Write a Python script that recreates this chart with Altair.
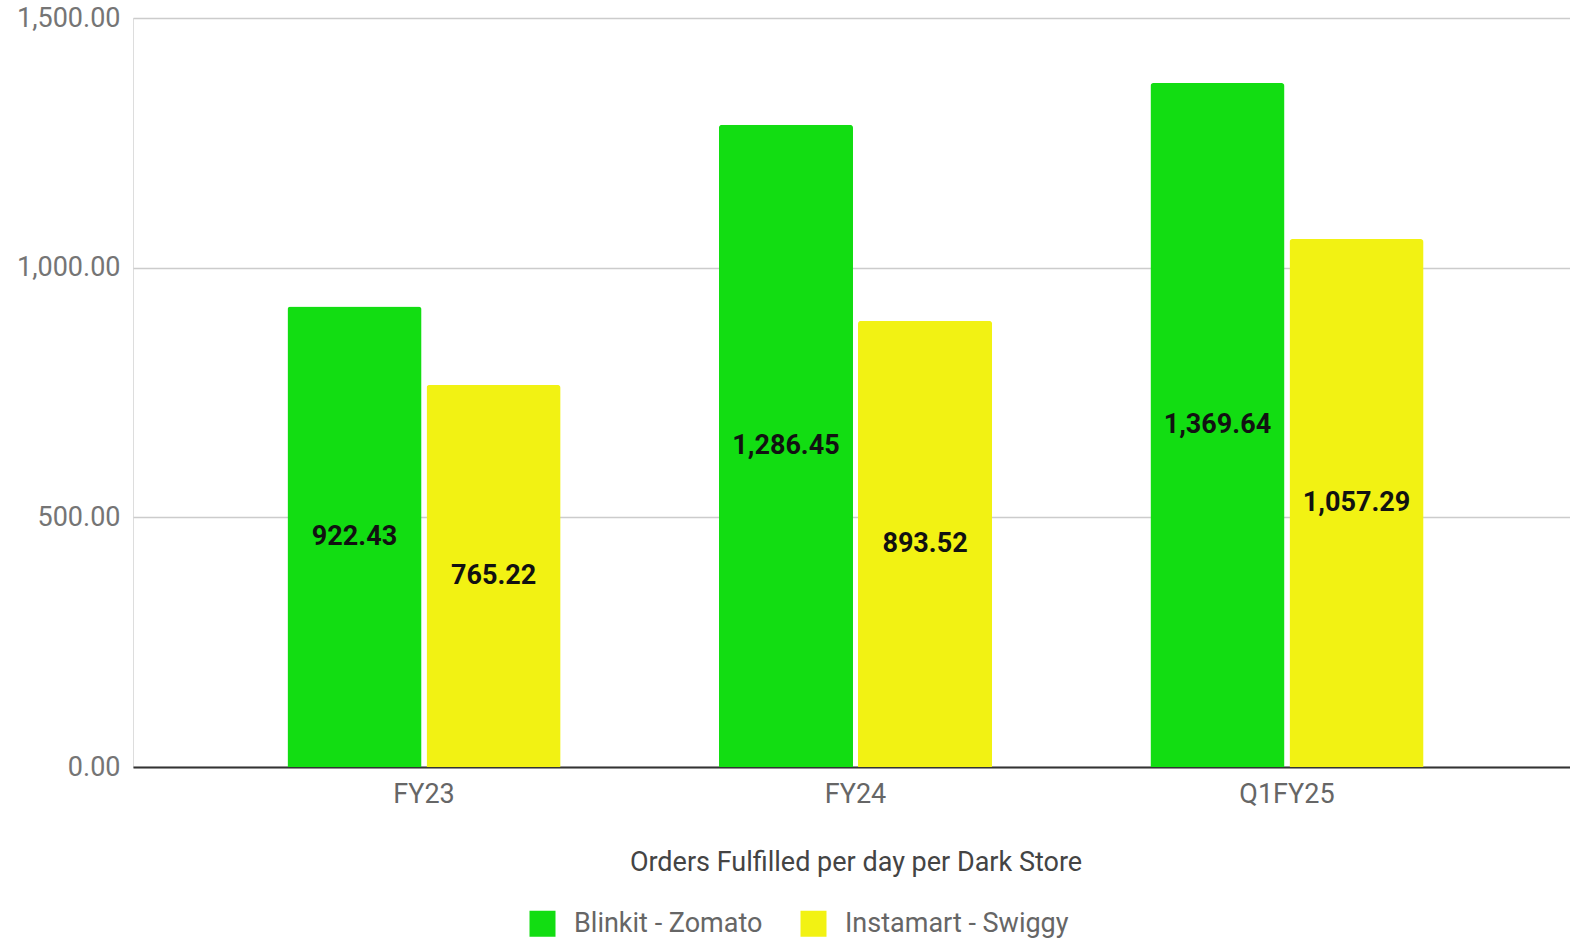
import altair as alt
import pandas as pd

periods = ["FY23", "FY24", "Q1FY25"]
series = ["Blinkit - Zomato", "Instamart - Swiggy"]
blinkit = [922.43, 1286.45, 1369.64]
instamart = [765.22, 893.52, 1057.29]
colors = ["#12DD12", "#F2F213"]

rows = []
for p, b, i in zip(periods, blinkit, instamart):
    rows.append({"period": p, "series": series[0], "value": b})
    rows.append({"period": p, "series": series[1], "value": i})
df = pd.DataFrame(rows)

FONT = "Roboto"
FS = 27

x = alt.X("period:N", sort=periods,
          scale=alt.Scale(paddingInner=0.367, paddingOuter=0.358, range=[0, 1445]),
          axis=alt.Axis(title="Orders Fulfilled per day per Dark Store", labelAngle=0,
                        labelFontSize=FS, labelColor="#666666", labelPadding=14,
                        titleFontSize=FS, titleColor="#444444", titleFontWeight="normal",
                        titlePadding=42, ticks=False, domainColor="#333333",
                        domainWidth=2, labelFont=FONT, titleFont=FONT))
xo = alt.XOffset("series:N", sort=series, scale=alt.Scale(paddingInner=0.036))

bars = alt.Chart(df).mark_bar(cornerRadiusTopLeft=3, cornerRadiusTopRight=3).encode(
    x=x,
    xOffset=xo,
    y=alt.Y("value:Q", scale=alt.Scale(domain=[0, 1500], nice=False),
            axis=alt.Axis(title=None, values=[0, 500, 1000, 1500], format=",.2f",
                          labelFontSize=FS, labelColor="#757575", labelPadding=13,
                          ticks=False, domain=False, gridColor="#CCCCCC",
                          gridWidth=1.5, labelFont=FONT)),
    color=alt.Color("series:N", sort=series,
                    scale=alt.Scale(domain=series, range=colors),
                    legend=alt.Legend(title=None, orient="none", legendX=396, legendY=892,
                                      direction="horizontal", symbolType="square",
                                      symbolSize=676, symbolStrokeWidth=0, symbolOpacity=1,
                                      labelFontSize=FS, labelColor="#666666", labelLimit=0,
                                      labelFont=FONT, columnPadding=37, labelOffset=18)),
)

labels = alt.Chart(df).transform_calculate(mid="datum.value / 2").mark_text(
    fontSize=FS, fontWeight="bold", color="#111111", font=FONT, baseline="middle"
).encode(
    x=alt.X("period:N", sort=periods),
    xOffset=alt.XOffset("series:N", sort=series),
    y=alt.Y("mid:Q"),
    text=alt.Text("value:Q", format=",.2f"),
)

chart = alt.layer(bars, labels).properties(
    width=1437, height=749,
    autosize=alt.AutoSizeParams(type="none"),
    padding={"left": 133, "top": 18, "right": 0, "bottom": 172},
).configure_view(stroke=None).configure(background="white")

chart.save("out.html", embed_options={"renderer": "svg", "actions": False})
